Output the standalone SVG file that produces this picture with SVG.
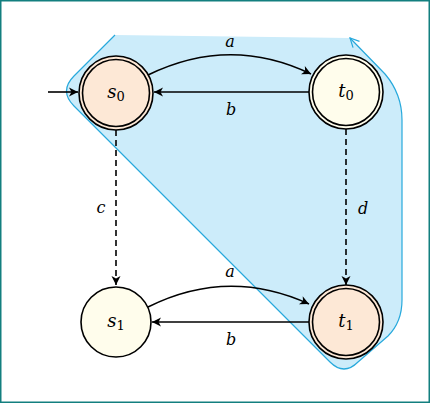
<svg xmlns="http://www.w3.org/2000/svg" width="430" height="403" viewBox="0 0 430 403">
<style>
.st{stroke:#000;stroke-width:1.6;}
.peach{fill:#fde8d6;}
.cream{fill:#fffdec;}
.e{fill:none;stroke:#000;stroke-width:1.6;}
.dash{stroke-dasharray:6,4;}
.lbl{font-family:"DejaVu Serif","Liberation Serif",serif;font-style:italic;font-size:16px;text-anchor:middle;}
.nl{font-family:"DejaVu Serif","Liberation Serif",serif;font-size:18px;text-anchor:middle;}
.sub{font-style:normal;font-size:13px;}
</style>
<defs>
<marker id="arr" markerUnits="userSpaceOnUse" markerWidth="14" markerHeight="12" viewBox="-10 -6 12 12" refX="0" refY="0" orient="auto">
<path d="M0,0 L-9,-4.5 L-6.5,0 L-9,4.5 Z" fill="#000"/>
</marker>
<marker id="barr" markerUnits="userSpaceOnUse" markerWidth="14" markerHeight="12" viewBox="-10 -6 12 12" refX="0" refY="0" orient="auto">
<path d="M-9,-4.5 L0,0 L-9,4.5" fill="none" stroke="#27a9dc" stroke-width="1.2"/>
</marker>
</defs>
<rect x="0.75" y="0.75" width="428.5" height="401.5" fill="#fff" stroke="#137f7f" stroke-width="1.5"/>
<g id="region">
<path d="M115,35 L74,76 Q59,91 74,106 L330,362 Q344,376 358,362 L388,336 Q402,322 402,300 L402,120 Q402,94 385,74 L350,38 Z" fill="#ccecfa" stroke="none"/>
<path d="M115,35 L74,76 Q59,91 74,106 L330,362 Q344,376 358,362 L388,336 Q402,322 402,300 L402,120 Q402,94 385,74 L350,38" fill="none" stroke="#27a9dc" stroke-width="1.2" marker-end="url(#barr)"/>
</g>
<g id="connectors">
<path class="e" d="M48,92 L78,92" marker-end="url(#arr)"/>
<path class="e" d="M148,75 Q230,35 311,74" marker-end="url(#arr)"/>
<path class="e" d="M309,92 L154,92" marker-end="url(#arr)"/>
<path class="e dash" d="M116,130 L116,285" marker-end="url(#arr)"/>
<path class="e dash" d="M346,129 L346,285" marker-end="url(#arr)"/>
<path class="e" d="M148,307 Q228,267 309,304" marker-end="url(#arr)"/>
<path class="e" d="M309,322 L152,322" marker-end="url(#arr)"/>
<text class="lbl" x="230" y="47">a</text>
<text class="lbl" x="231" y="115">b</text>
<text class="lbl" x="101" y="213">c</text>
<text class="lbl" x="363" y="214">d</text>
<text class="lbl" x="230" y="277">a</text>
<text class="lbl" x="231" y="345">b</text>
</g>
<g id="s0">
<circle class="peach st" cx="116" cy="93" r="37"/>
<circle fill="none" class="st" cx="116" cy="93" r="33.5"/>
<text class="nl" x="116" y="98"><tspan font-style="italic">s</tspan><tspan class="sub" dy="3">0</tspan></text>
</g>
<g id="t0">
<circle class="cream st" cx="346" cy="92" r="37"/>
<circle fill="none" class="st" cx="346" cy="92" r="33.5"/>
<text class="nl" x="346" y="97"><tspan font-style="italic">t</tspan><tspan class="sub" dy="3">0</tspan></text>
</g>
<g id="s1">
<circle class="cream st" cx="116" cy="322" r="35"/>
<text class="nl" x="116" y="327"><tspan font-style="italic">s</tspan><tspan class="sub" dy="3">1</tspan></text>
</g>
<g id="t1">
<circle class="peach st" cx="346" cy="322" r="37"/>
<circle fill="none" class="st" cx="346" cy="322" r="33.5"/>
<text class="nl" x="346" y="327"><tspan font-style="italic">t</tspan><tspan class="sub" dy="3">1</tspan></text>
</g>
</svg>
